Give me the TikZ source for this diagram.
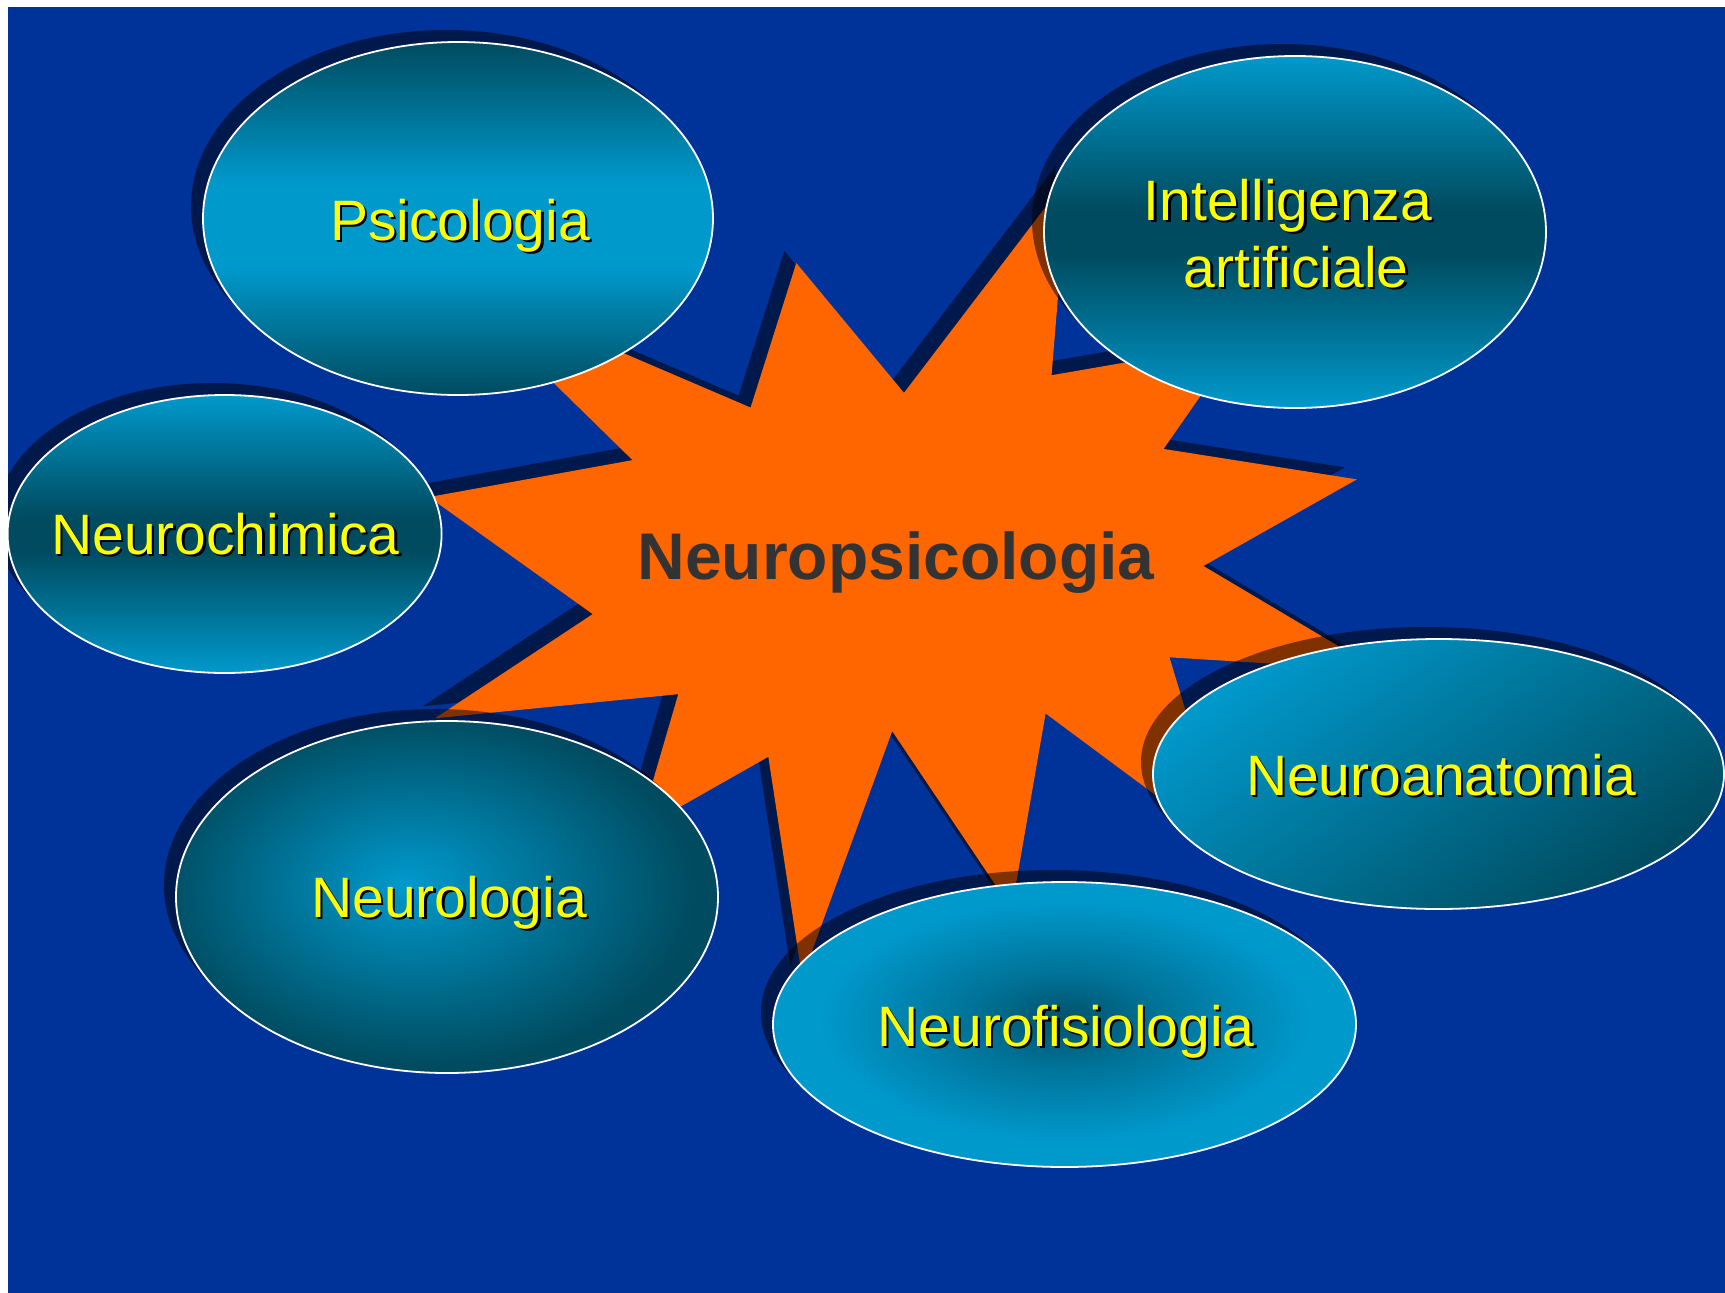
\documentclass[tikz,border=0pt]{standalone}
\usepackage{fontspec}
\setmainfont{Liberation Sans}
\definecolor{bgblue}{HTML}{003399}
\definecolor{starorange}{HTML}{FF6600}
\definecolor{elight}{HTML}{0099CC}
\definecolor{edark}{HTML}{004B5F}
\definecolor{edarkc}{HTML}{00526B}
\definecolor{textyellow}{HTML}{FFFF00}
\definecolor{textgray}{HTML}{333333}
\pgfdeclareradialshading{lightcenter}{\pgfpoint{-4bp}{2bp}}{color(0bp)=(elight); color(25bp)=(edark); color(50bp)=(edark)}
\pgfdeclareradialshading{darkcenter}{\pgfpoint{0bp}{1bp}}{color(0bp)=(edarkc); color(8bp)=(edarkc!55!elight); color(21bp)=(elight); color(25bp)=(elight); color(50bp)=(elight)}
\pgfdeclareverticalshading{darklightdark}{100bp}{color(0bp)=(edark); color(25bp)=(edark); color(43bp)=(elight); color(55bp)=(elight); color(75bp)=(edark); color(100bp)=(edark)}
\pgfdeclareverticalshading{lightdarklight}{100bp}{color(0bp)=(elight); color(25bp)=(elight); color(47bp)=(edark); color(53bp)=(edark); color(75bp)=(elight); color(100bp)=(elight)}
\newcommand{\burstoutline}{(108,58) -- (145.22,0) -- (141.55,53.25) -- (183.80,44.57) -- (167.02,73.15) -- (210.97,81.37) -- (176.07,104.75) -- (216,132.90) -- (168.37,129.42) -- (181.45,180.95) -- (140.20,144.57) -- (132.47,197.37) -- (105.32,149.35) -- (84.85,216) -- (77.15,156.27) -- (47.62,176.17) -- (56.67,139.37) -- (1.35,145.87) -- (37.22,117.75) -- (0,86.15) -- (46.27,76.17) -- (3.70,26.67) -- (73.12,61.98) -- (83.52,22.95) -- cycle}
\begin{document}
\begin{tikzpicture}[x=1pt,y=-1pt,
  shadowfill/.style={fill=black,fill opacity=0.5},
  bubble/.style={draw=white,line width=1.8pt},
  lbltext/.style={font=\fontsize{57}{68}\selectfont,text=textyellow,anchor=base,inner sep=0pt},
  lblshadow/.style={font=\fontsize{57}{68}\selectfont,text=black,anchor=base,inner sep=0pt},
  centertext/.style={font=\fontsize{66}{78}\selectfont\bfseries,text=textgray,anchor=base,inner sep=0pt}
]
\useasboundingbox (0,0) rectangle (1725,1293);
\fill[white] (0,0) rectangle (1725,1293);
\fill[bgblue] (8,7) rectangle (1725,1293);
\begin{scope}
\clip (8,7) rectangle (1725,1293);
% burst
\begin{scope}[shift={(417,166)},xscale=4.3981,yscale=3.7037]
  \fill[shadowfill] \burstoutline;
\end{scope}
\begin{scope}[shift={(429,178)},xscale=4.3981,yscale=3.7037]
  \fill[starorange] \burstoutline;
\end{scope}
\node[centertext] (neuropsi) at (896,579) {Neuropsicologia};
% Psicologia
\fill[shadowfill] (446,206.5) ellipse [x radius=255,y radius=176.5];
\shadedraw[bubble,shading=darklightdark] (458,218.5) ellipse [x radius=255,y radius=176.5];
\node[lblshadow] (psiS) at (462.5,242.5) {Psicologia};
\node[lbltext] (psi) at (460,240) {Psicologia};
% Intelligenza artificiale
\fill[shadowfill] (1283,220) ellipse [x radius=251,y radius=176];
\shadedraw[bubble,shading=lightdarklight] (1295,232) ellipse [x radius=251,y radius=176];
\node[lblshadow] (intS) at (1290.5,222.5) {Intelligenza};
\node[lbltext] (int) at (1288,220) {Intelligenza};
\node[lblshadow] (artS) at (1298.5,289.5) {artificiale};
\node[lbltext] (art) at (1296,287) {artificiale};
% Neurochimica
\fill[shadowfill] (212.6,522) ellipse [x radius=217,y radius=139];
\shadedraw[bubble,shading=lightdarklight] (224.6,534) ellipse [x radius=217,y radius=139];
\node[lblshadow] (chimS) at (228,556.5) {Neurochimica};
\node[lbltext] (chim) at (225.5,554) {Neurochimica};
% Neurologia
\fill[shadowfill] (435,885) ellipse [x radius=271,y radius=176];
\shadedraw[bubble,shading=lightcenter] (447,897) ellipse [x radius=271,y radius=176];
\node[lblshadow] (neurolS) at (451.5,919.5) {Neurologia};
\node[lbltext] (neurol) at (449,917) {Neurologia};
% Neuroanatomia
\fill[shadowfill] (1426.5,762) ellipse [x radius=285.5,y radius=135];
\shadedraw[bubble,top color=elight,bottom color=edark,shading angle=35] (1438.5,774) ellipse [x radius=285.5,y radius=135];
\node[lblshadow] (anatS) at (1443.5,797.5) {Neuroanatomia};
\node[lbltext] (anat) at (1441,795) {Neuroanatomia};
% Neurofisiologia
\fill[shadowfill] (1052.5,1012.5) ellipse [x radius=291.5,y radius=142.5];
\shadedraw[bubble,shading=darkcenter] (1064.5,1024.5) ellipse [x radius=291.5,y radius=142.5];
\node[lblshadow] (fisioS) at (1068.5,1048.5) {Neurofisiologia};
\node[lbltext] (fisio) at (1066,1046) {Neurofisiologia};
\end{scope}
\end{tikzpicture}
\end{document}
